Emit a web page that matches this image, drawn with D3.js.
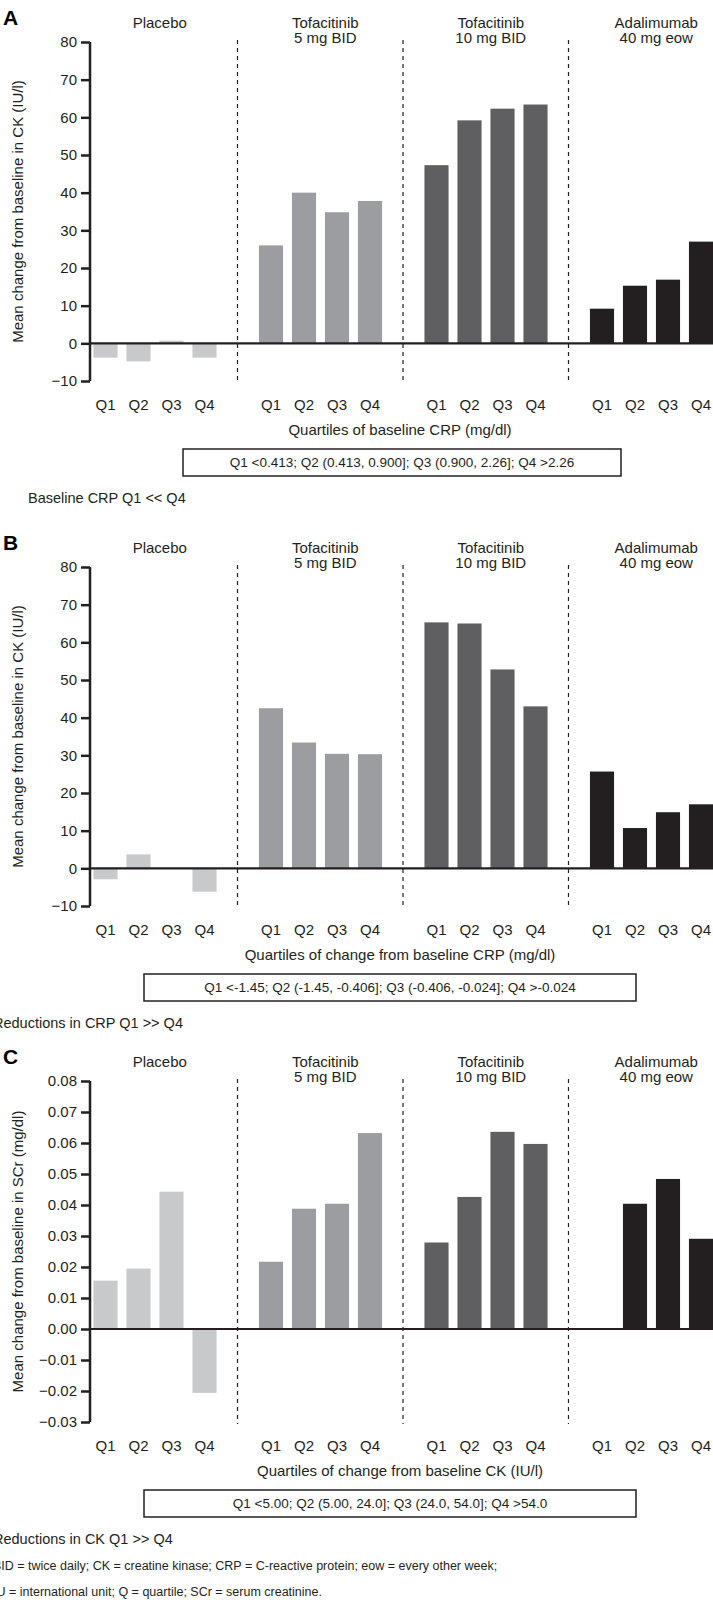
<!DOCTYPE html>
<html>
<head>
<meta charset="utf-8">
<script src="https://cdn.jsdelivr.net/npm/d3@7"></script>
<style>
body { margin: 0; background: #fff; }
svg { font-family: "Liberation Sans", Arial, sans-serif; }
</style>
</head>
<body>
<svg id="chart" width="713" height="1600"></svg>
<script>
'use strict';

const groups = ['Placebo', 'Tofacitinib 5 mg BID', 'Tofacitinib 10 mg BID', 'Adalimumab 40 mg eow'];
const groupTitles = [['Placebo'], ['Tofacitinib', '5 mg BID'], ['Tofacitinib', '10 mg BID'], ['Adalimumab', '40 mg eow']];
const quartiles = ['Q1', 'Q2', 'Q3', 'Q4'];
const colors = ['#c8c9cb', '#9c9da1', '#5f5f62', '#231f20'];

const valuesA = [[-3.8, -4.8, 0.7, -3.8], [26, 40, 34.8, 37.8], [47.3, 59.2, 62.3, 63.4], [9.2, 15.3, 16.9, 27]];
const valuesB = [[-2.9, 3.7, 0, -6.2], [42.5, 33.4, 30.4, 30.3], [65.3, 65, 52.8, 43], [25.7, 10.7, 14.9, 17]];
const valuesC = [[0.0156, 0.0195, 0.0443, -0.0206], [0.0217, 0.0388, 0.0404, 0.0632], [0.0279, 0.0426, 0.0636, 0.0597], [0, 0.0404, 0.0484, 0.0291]];

const ticksCK = [-10, 0, 10, 20, 30, 40, 50, 60, 70, 80];
const ticksSCr = [-0.03, -0.02, -0.01, 0, 0.01, 0.02, 0.03, 0.04, 0.05, 0.06, 0.07, 0.08];

const panels = [
	{letter: 'A', top: 42, bottom: 381, values: valuesA, domain: [-10, 80], ticks: ticksCK, fmt: d3.format('d'),
		yTitle: 'Mean change from baseline in CK (IU/l)', xTitle: 'Quartiles of baseline CRP (mg/dl)',
		box: 'Q1 <0.413; Q2 (0.413, 0.900]; Q3 (0.900, 2.26]; Q4 >2.26', boxX: [183, 621],
		note: 'Baseline CRP Q1 << Q4', noteX: 28},
	{letter: 'B', top: 567, bottom: 906, values: valuesB, domain: [-10, 80], ticks: ticksCK, fmt: d3.format('d'),
		yTitle: 'Mean change from baseline in CK (IU/l)', xTitle: 'Quartiles of change from baseline CRP (mg/dl)',
		box: 'Q1 <-1.45; Q2 (-1.45, -0.406]; Q3 (-0.406, -0.024]; Q4 >-0.024', boxX: [144, 636],
		note: 'Reductions in CRP Q1 >> Q4', noteX: -7},
	{letter: 'C', top: 1081, bottom: 1422, values: valuesC, domain: [-0.03, 0.08], ticks: ticksSCr, fmt: d3.format('.2f'),
		yTitle: 'Mean change from baseline in SCr (mg/dl)', xTitle: 'Quartiles of change from baseline CK (IU/l)',
		box: 'Q1 <5.00; Q2 (5.00, 24.0]; Q3 (24.0, 54.0]; Q4 >54.0', boxX: [144, 636],
		note: 'Reductions in CK Q1 >> Q4', noteX: -7}
];

const footnotes = ['BID = twice daily; CK = creatine kinase; CRP = C-reactive protein; eow = every other week;',
	'IU = international unit; Q = quartile; SCr = serum creatinine.'];

const svg = d3.select('#chart');
const axisX = 90;
const groupX = d3.scaleBand().domain(groups).range([72, 734]);
const qX = d3.scaleBand().domain(quartiles).range([17, 149]).paddingInner(0.27).paddingOuter(0.135);

function drawPanel(p) {
	const g = svg.append('g');
	const y = d3.scaleLinear().domain(p.domain).range([p.bottom, p.top]);

	g.append('text').attr('x', 3).attr('y', p.top - 17)
		.style('font-size', '21px').style('font-weight', 'bold').text(p.letter);

	groupTitles.forEach((lines, i) => {
		const cx = groupX(groups[i]) + groupX.bandwidth() / 2 + 5;
		lines.forEach((t, j) => {
			g.append('text').attr('x', cx).attr('y', p.top - 14 + j * 15)
				.attr('text-anchor', 'middle').style('font-size', '15px').attr('fill', '#231f20').text(t);
		});
	});

	// dashed separators
	groups.slice(1).forEach(gr => {
		g.append('line').attr('x1', groupX(gr)).attr('x2', groupX(gr))
			.attr('y1', p.top - 2).attr('y2', p.bottom + 2)
			.attr('stroke', '#231f20').attr('stroke-width', 1.2).attr('stroke-dasharray', '4,4');
	});

	// bars
	p.values.forEach((vals, i) => {
		g.selectAll(null).data(vals).join('rect')
			.attr('x', (d, k) => groupX(groups[i]) + qX(quartiles[k]))
			.attr('width', qX.bandwidth())
			.attr('y', d => y(Math.max(0, d)))
			.attr('height', d => Math.abs(y(d) - y(0)))
			.attr('fill', colors[i]);
		g.selectAll(null).data(quartiles).join('text')
			.attr('x', q => groupX(groups[i]) + qX(q) + qX.bandwidth() / 2)
			.attr('y', p.bottom + 29)
			.attr('text-anchor', 'middle').style('font-size', '15px').attr('fill', '#231f20')
			.text(q => q);
	});

	// zero line
	g.append('line').attr('x1', axisX).attr('x2', 713).attr('y1', y(0)).attr('y2', y(0))
		.attr('stroke', '#231f20').attr('stroke-width', 2.2);

	const axis = g.append('g').attr('transform', `translate(${axisX},0)`)
		.call(d3.axisLeft(y).tickValues(p.ticks).tickFormat(p.fmt).tickSize(9).tickPadding(4));
	axis.select('.domain').attr('stroke', '#231f20').attr('stroke-width', 2.5).attr('d', `M0,${p.top}V${p.bottom}`);
	axis.selectAll('.tick line').attr('stroke', '#231f20').attr('stroke-width', 2.5);
	axis.selectAll('.tick text').style('font-size', '15px').style('font-family', '"Liberation Sans", Arial, sans-serif').attr('fill', '#231f20');

	g.append('text')
		.attr('transform', `translate(23,${(p.top + p.bottom) / 2}) rotate(-90)`)
		.attr('text-anchor', 'middle').style('font-size', '15px').attr('fill', '#231f20').text(p.yTitle);

	g.append('text').attr('x', 400).attr('y', p.bottom + 54)
		.attr('text-anchor', 'middle').style('font-size', '15px').attr('fill', '#231f20').text(p.xTitle);

	g.append('rect').attr('x', p.boxX[0]).attr('y', p.bottom + 68)
		.attr('width', p.boxX[1] - p.boxX[0]).attr('height', 27)
		.attr('fill', 'none').attr('stroke', '#231f20').attr('stroke-width', 1.5);
	g.append('text').attr('x', (p.boxX[0] + p.boxX[1]) / 2).attr('y', p.bottom + 86)
		.attr('text-anchor', 'middle').style('font-size', '13.5px').attr('fill', '#231f20').text(p.box);

	g.append('text').attr('x', p.noteX).attr('y', p.bottom + 122)
		.style('font-size', '14.5px').attr('fill', '#231f20').text(p.note);
}

panels.forEach(drawPanel);

footnotes.forEach((t, i) => {
	svg.append('text').attr('x', -7).attr('y', 1570 + i * 26)
		.style('font-size', '12.5px').attr('fill', '#231f20').text(t);
});
</script>
</body>
</html>
